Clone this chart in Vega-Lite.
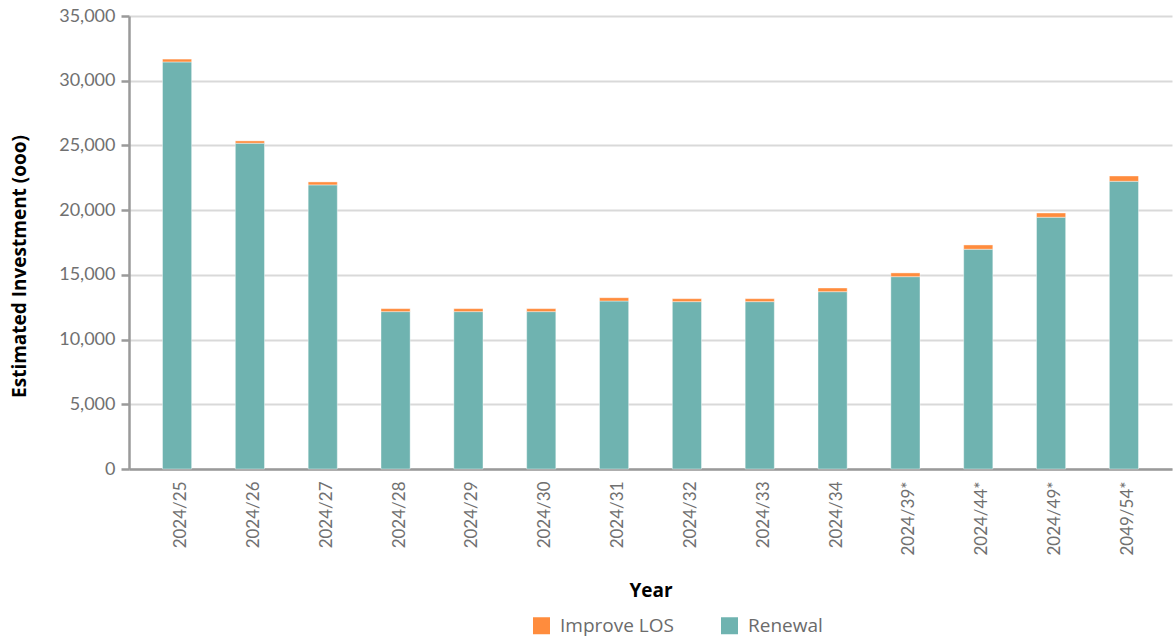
{
  "$schema": "https://vega.github.io/schema/vega-lite/v6.json",
  "width": 1043,
  "height": 453,
  "autosize": {"type": "none"},
  "padding": {"left": 129, "top": 16, "right": 3, "bottom": 170},
  "background": "#ffffff",
  "config": {
    "view": {"stroke": null},
    "font": "Open Sans"
  },
  "data": {
    "values": [
      {"year": "2024/25", "type": "Renewal", "value": 31450},
      {"year": "2024/25", "type": "Improve LOS", "value": 220},
      {"year": "2024/26", "type": "Renewal", "value": 25170},
      {"year": "2024/26", "type": "Improve LOS", "value": 180},
      {"year": "2024/27", "type": "Renewal", "value": 21950},
      {"year": "2024/27", "type": "Improve LOS", "value": 230},
      {"year": "2024/28", "type": "Renewal", "value": 12160},
      {"year": "2024/28", "type": "Improve LOS", "value": 230},
      {"year": "2024/29", "type": "Renewal", "value": 12160},
      {"year": "2024/29", "type": "Improve LOS", "value": 230},
      {"year": "2024/30", "type": "Renewal", "value": 12160},
      {"year": "2024/30", "type": "Improve LOS", "value": 230},
      {"year": "2024/31", "type": "Renewal", "value": 12980},
      {"year": "2024/31", "type": "Improve LOS", "value": 255},
      {"year": "2024/32", "type": "Renewal", "value": 12930},
      {"year": "2024/32", "type": "Improve LOS", "value": 230},
      {"year": "2024/33", "type": "Renewal", "value": 12930},
      {"year": "2024/33", "type": "Improve LOS", "value": 230},
      {"year": "2024/34", "type": "Renewal", "value": 13700},
      {"year": "2024/34", "type": "Improve LOS", "value": 285},
      {"year": "2024/39*", "type": "Renewal", "value": 14860},
      {"year": "2024/39*", "type": "Improve LOS", "value": 290},
      {"year": "2024/44*", "type": "Renewal", "value": 16980},
      {"year": "2024/44*", "type": "Improve LOS", "value": 330},
      {"year": "2024/49*", "type": "Renewal", "value": 19450},
      {"year": "2024/49*", "type": "Improve LOS", "value": 330},
      {"year": "2049/54*", "type": "Renewal", "value": 22230},
      {"year": "2049/54*", "type": "Improve LOS", "value": 410}
    ]
  },
  "transform": [
    {"calculate": "datum.type === 'Renewal' ? 0 : 1", "as": "ord"}
  ],
  "mark": {"type": "bar", "stroke": "#ffffff", "strokeWidth": 1, "strokeOpacity": 0.4},
  "encoding": {
    "x": {
      "field": "year",
      "type": "nominal",
      "sort": null,
      "scale": {"paddingInner": 0.6, "paddingOuter": 0.46},
      "axis": {
        "title": "Year",
        "titleFont": "Open Sans",
        "titleFontSize": 19,
        "titleFontWeight": "bold",
        "titleColor": "#000000",
        "titleY": 121,
        "titleBaseline": "middle",
        "labelAngle": -90,
        "labelFont": "Lato",
        "labelFontSize": 17,
        "labelColor": "#707070",
        "labelPadding": 12,
        "labelOffset": 4,
        "ticks": false,
        "domainColor": "#9a9a9a",
        "domainWidth": 2.5,
        "grid": false
      }
    },
    "y": {
      "field": "value",
      "type": "quantitative",
      "stack": "zero",
      "scale": {"domain": [0, 35000], "nice": false},
      "axis": {
        "title": "Estimated Investment (ooo)",
        "titleFont": "Open Sans",
        "titleFontSize": 19,
        "titleFontWeight": "bold",
        "titleColor": "#000000",
        "titleAngle": -90,
        "titleX": -110,
        "titleY": 250,
        "titleAlign": "center",
        "titleBaseline": "middle",
        "values": [0, 5000, 10000, 15000, 20000, 25000, 30000, 35000],
        "format": ",d",
        "labelFont": "Lato",
        "labelFontSize": 18,
        "labelColor": "#707070",
        "labelPadding": 6,
        "tickSize": 8,
        "tickColor": "#9a9a9a",
        "tickWidth": 2.5,
        "domainColor": "#9a9a9a",
        "domainWidth": 2.5,
        "grid": true,
        "gridColor": "#d9d9d9",
        "gridWidth": 2
      }
    },
    "color": {
      "field": "type",
      "type": "nominal",
      "scale": {"domain": ["Improve LOS", "Renewal"], "range": ["#ff8c3d", "#6fb3b0"]},
      "legend": {
        "title": null,
        "orient": "none",
        "direction": "horizontal",
        "legendX": 403,
        "legendY": 600,
        "symbolType": "square",
        "symbolSize": 289,
        "symbolStrokeWidth": 0,
        "labelFont": "Open Sans",
        "labelFontSize": 19,
        "labelColor": "#6b6b6b",
        "labelOffset": 9,
        "columnPadding": 46
      }
    },
    "order": {"field": "ord", "type": "quantitative"}
  }
}
